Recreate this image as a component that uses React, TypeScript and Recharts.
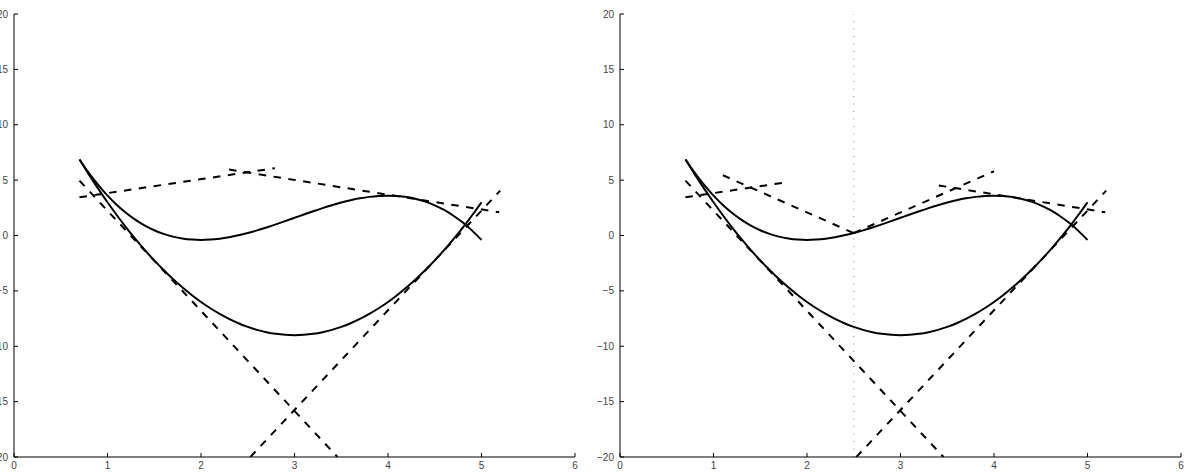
import React from 'react';
import { LineChart, Line, XAxis, YAxis, ReferenceLine } from 'recharts';

const xTicks = [0, 1, 2, 3, 4, 5, 6];
const yTicks = [-20, -15, -10, -5, 0, 5, 10, 15, 20];

const curveX = [
  0.7, 0.8, 0.9, 1.0, 1.1, 1.2, 1.3, 1.4, 1.5, 1.6, 1.7, 1.8, 1.9, 2.0, 2.1,
  2.2, 2.3, 2.4, 2.5, 2.6, 2.7, 2.8, 2.9, 3.0, 3.1, 3.2, 3.3, 3.4, 3.5, 3.6,
  3.7, 3.8, 3.9, 4.0, 4.1, 4.2, 4.3, 4.4, 4.5, 4.6, 4.7, 4.8, 4.9, 5.0,
];
const cubicY = [
  6.867, 5.648, 4.561, 3.6, 2.759, 2.032, 1.413, 0.896, 0.475, 0.144, -0.103,
  -0.272, -0.369, -0.4, -0.371, -0.288, -0.157, 0.016, 0.225, 0.464, 0.727,
  1.008, 1.301, 1.6, 1.899, 2.192, 2.473, 2.736, 2.975, 3.184, 3.357, 3.488,
  3.571, 3.6, 3.569, 3.472, 3.303, 3.056, 2.725, 2.304, 1.787, 1.168, 0.441, -0.4,
];
const parabolaY = [
  6.87, 5.52, 4.23, 3.0, 1.83, 0.72, -0.33, -1.32, -2.25, -3.12, -3.93, -4.68,
  -5.37, -6.0, -6.57, -7.08, -7.53, -7.92, -8.25, -8.52, -8.73, -8.88, -8.97,
  -9.0, -8.97, -8.88, -8.73, -8.52, -8.25, -7.92, -7.53, -7.08, -6.57, -6.0,
  -5.37, -4.68, -3.93, -3.12, -2.25, -1.32, -0.33, 0.72, 1.83, 3.0,
];

// dashed segments (x, y endpoints in data units)
const tangentParabolaA = [{ x: 0.7, y: 4.95 }, { x: 3.46, y: -20 }];
const tangentParabolaB = [{ x: 2.528, y: -20 }, { x: 5.2, y: 4.05 }];
const leftLine1 = [{ x: 0.7, y: 3.45 }, { x: 2.79, y: 6.08 }];
const leftLine2 = [{ x: 2.3, y: 5.95 }, { x: 5.19, y: 2.1 }];
const rightLineA = [{ x: 0.7, y: 3.45 }, { x: 1.75, y: 4.77 }];
const rightLineB = [{ x: 1.1, y: 5.44 }, { x: 2.5, y: 0.22 }];
const rightLineC = [{ x: 2.5, y: 0.22 }, { x: 4.0, y: 5.8 }];
const rightLineD = [{ x: 3.41, y: 4.52 }, { x: 5.19, y: 2.1 }];
const guideX = 2.5;

const cubicData = curveX.map((x, i) => ({ x, y: cubicY[i] }));
const parabolaData = curveX.map((x, i) => ({ x, y: parabolaY[i] }));

const fmt = (v: number) => (v < 0 ? `\u2212${-v}` : `${v}`);
const tickStyle = { fill: '#444', fontSize: 10, fontFamily: 'Liberation Sans, Arial, sans-serif' };

function Panel({ left, segments, guide }: { left: number; segments: { x: number; y: number }[][]; guide: boolean }) {
  return (
    <div style={{ position: 'absolute', left, top: 0 }}>
      <LineChart width={611} height={472} margin={{ top: 14, right: 10, left: 0, bottom: 0 }}>
        <XAxis
          type="number"
          dataKey="x"
          domain={[0, 6]}
          ticks={xTicks}
          interval={0}
          allowDataOverflow
          height={15}
          tickSize={-4}
          tickMargin={9}
          stroke="#000"
          tick={tickStyle}
          tickFormatter={fmt}
        />
        <YAxis
          type="number"
          dataKey="y"
          domain={[-20, 20]}
          ticks={yTicks}
          interval={0}
          allowDataOverflow
          width={40}
          tickSize={-4}
          tickMargin={10}
          stroke="#000"
          tick={tickStyle}
          tickFormatter={fmt}
        />
        {guide && (
          <ReferenceLine x={guideX} stroke="#888" strokeDasharray="1 6.5" strokeWidth={1} />
        )}
        {segments.map((seg, i) => (
          <Line
            key={`s${i}`}
            data={seg}
            dataKey="y"
            type="linear"
            stroke="#000"
            strokeWidth={2}
            strokeDasharray="7.5 7.5"
            dot={false}
            activeDot={false}
            isAnimationActive={false}
          />
        ))}
        <Line data={cubicData} dataKey="y" type="monotone" stroke="#000" strokeWidth={2} dot={false} activeDot={false} isAnimationActive={false} />
        <Line data={parabolaData} dataKey="y" type="monotone" stroke="#000" strokeWidth={2} dot={false} activeDot={false} isAnimationActive={false} />
      </LineChart>
    </div>
  );
}

export default function App() {
  return (
    <div style={{ position: 'absolute', left: 0, top: 0, width: 1191, height: 472, overflow: 'hidden', background: '#fff' }}>
      <Panel left={-26} guide={false} segments={[tangentParabolaA, tangentParabolaB, leftLine1, leftLine2]} />
      <Panel left={580} guide={true} segments={[tangentParabolaA, tangentParabolaB, rightLineA, rightLineB, rightLineC, rightLineD]} />
    </div>
  );
}
